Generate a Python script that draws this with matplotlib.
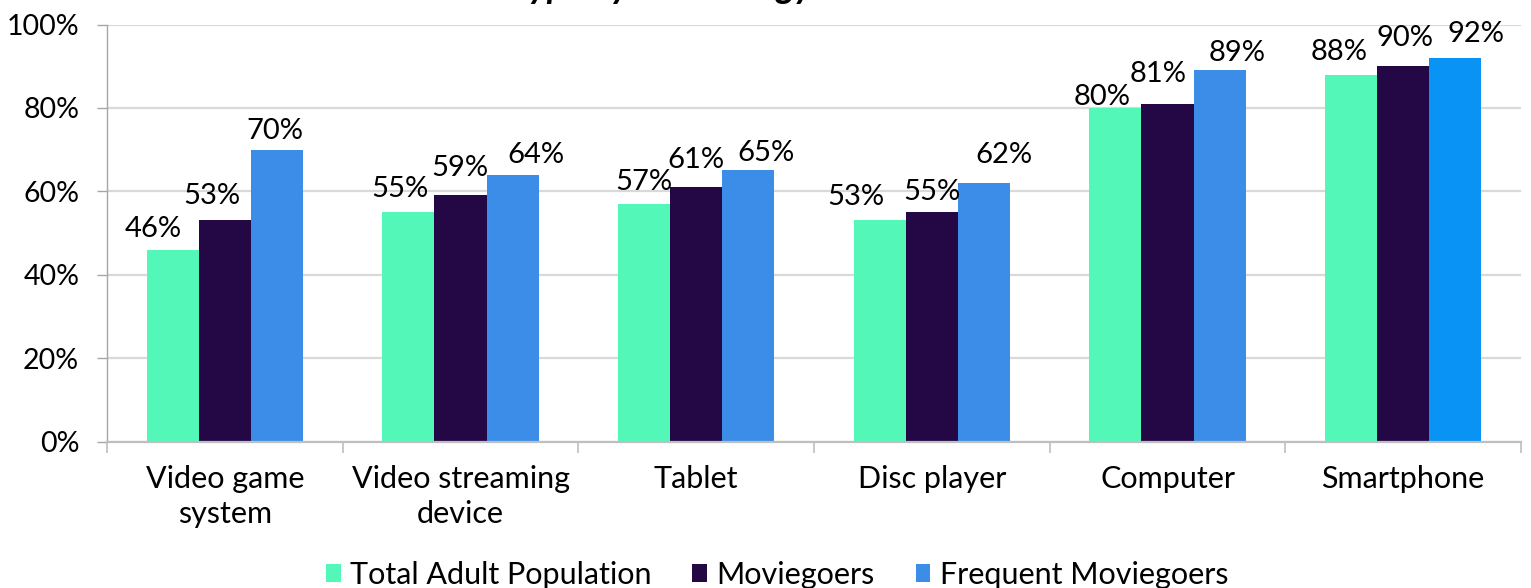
import matplotlib
matplotlib.use("Agg")
import matplotlib.pyplot as plt
import numpy as np
from matplotlib.patches import Patch

plt.rcParams["font.family"] = ["Lato", "DejaVu Sans"]

# Data
categories = ["Video game\nsystem", "Video streaming\ndevice", "Tablet",
              "Disc player", "Computer", "Smartphone"]
series_names = ["Total Adult Population", "Moviegoers", "Frequent Moviegoers"]
total_adult = [46, 55, 57, 53, 80, 88]
moviegoers = [53, 59, 61, 55, 81, 90]
frequent = [70, 64, 65, 62, 89, 92]
y_ticks = [0, 20, 40, 60, 80, 100]

# Styling
colors = ["#53f8b8", "#230845", "#3b8de8"]
highlight_color = "#0993f5"  # last frequent-moviegoer bar
label_dx = [[-20, -13, -2], [-8, -1, 23], [0, 0, 18],
            [-24, 0, 20], [-13, -9, 18], [-12, 2, 21]]
label_dy = [[13, 16, 11], [15, 19, 12], [14, 19, 9],
            [15, 12, 20], [3, 22, 9], [15, 20, 16]]

W, H, DPI = 1531, 588, 100
fig = plt.figure(figsize=(W / DPI, H / DPI), dpi=DPI)
ax = fig.add_axes([107 / W, 1 - 441.5 / H, 1414 / W, (441.5 - 24.5) / H])

x = np.arange(len(categories))
bw = 0.221
all_series = [total_adult, moviegoers, frequent]
for s, vals in enumerate(all_series):
    offs = (s - 1) * bw
    cols = [colors[s]] * len(vals)
    if s == 2:
        cols[-1] = highlight_color
    bars = ax.bar(x + offs, vals, width=bw, color=cols, zorder=3,
                  edgecolor="none")
    for i, (b, v) in enumerate(zip(bars, vals)):
        ax.annotate(f"{v}%", (b.get_x() + b.get_width() / 2, v),
                    xytext=(label_dx[i][s], label_dy[i][s]),
                    textcoords="offset pixels", ha="center", va="baseline",
                    fontsize=21, color="#000000", zorder=4)

ax.set_xlim(-0.5, len(categories) - 0.5)
ax.set_ylim(0, 100)
ax.set_yticks(y_ticks)
ax.set_yticklabels([f"{t}%" for t in y_ticks], fontsize=20.5)
ax.yaxis.grid(True, color="#d9d9d9", linewidth=1.6, zorder=0)
ax.set_axisbelow(True)

# category labels centred, ticks on category boundaries
ax.set_xticks(x)
ax.set_xticklabels(categories, fontsize=22, linespacing=1.32)
ax.tick_params(axis="x", length=0, pad=17)
ax.set_xticks(np.arange(-0.5, len(categories), 1.0), minor=True)
ax.tick_params(axis="x", which="minor", length=8, width=1.2, color="#bfbfbf",
               direction="out")
ax.tick_params(axis="y", length=7, width=1.0, color="#a6a6a6", pad=13)

for side in ["top", "right"]:
    ax.spines[side].set_visible(False)
ax.spines["left"].set_color("#a6a6a6")
ax.spines["left"].set_linewidth(1.0)
ax.spines["bottom"].set_color("#bfbfbf")
ax.spines["bottom"].set_linewidth(1.6)
ax.spines["bottom"].set_zorder(5)

# Title (runs off the top edge of the canvas)
fig.text(812 / W, 1 + 1.5 / H, "Type by Technology", ha="right", va="baseline",
         fontsize=26, fontweight="bold", fontstyle="italic", color="#000000")

handles = [Patch(facecolor=c, edgecolor="none") for c in colors]
fig.legend(handles, series_names, loc="center", ncol=3, frameon=False,
           bbox_to_anchor=(777 / W, 1 - 575 / H), fontsize=22,
           handlelength=0.48, handleheight=0.5, handletextpad=0.3,
           columnspacing=1.35, borderpad=0, borderaxespad=0)

fig.savefig("out.png", dpi=DPI)
